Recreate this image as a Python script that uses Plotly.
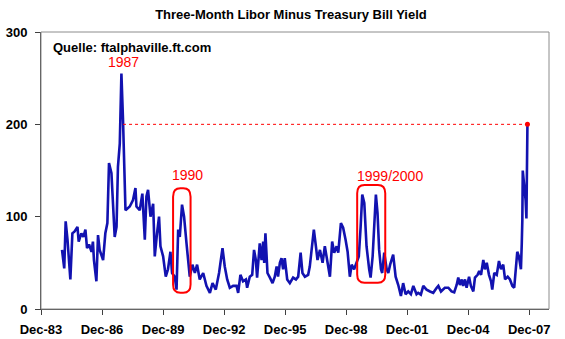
import plotly.graph_objects as go

title_text = "Three-Month Libor Minus Treasury Bill Yield"
source_text = "Quelle: ftalphaville.ft.com"

# time in decimal years, spread in basis points
years = [
    1984.95, 1985.03, 1985.06, 1985.13, 1985.22, 1985.36, 1985.46, 1985.57, 1985.71, 1985.77,
    1985.90, 1986.00, 1986.10, 1986.18, 1986.28, 1986.40, 1986.47, 1986.52, 1986.64, 1986.72,
    1986.80, 1986.97, 1987.08, 1987.18, 1987.26, 1987.38, 1987.46, 1987.54, 1987.63, 1987.70,
    1987.79, 1987.87, 1987.95, 1988.00, 1988.07, 1988.28, 1988.44, 1988.56, 1988.61, 1988.77,
    1988.90, 1989.02, 1989.10, 1989.18, 1989.30, 1989.43, 1989.51, 1989.62, 1989.72, 1989.79,
    1989.92, 1990.05, 1990.16, 1990.28, 1990.36, 1990.49, 1990.58, 1990.66, 1990.74, 1990.85,
    1990.95, 1991.07, 1991.15, 1991.23, 1991.36, 1991.48, 1991.59, 1991.72, 1991.89, 1992.05,
    1992.22, 1992.35, 1992.51, 1992.67, 1992.84, 1992.95, 1993.07, 1993.20, 1993.36, 1993.53,
    1993.61, 1993.72, 1993.85, 1993.99, 1994.05, 1994.18, 1994.30, 1994.39, 1994.48, 1994.54,
    1994.67, 1994.76, 1994.84, 1994.89, 1994.95, 1995.05, 1995.17, 1995.30, 1995.41, 1995.50,
    1995.57, 1995.66, 1995.74, 1995.82, 1995.90, 1996.02, 1996.15, 1996.31, 1996.45, 1996.56,
    1996.68, 1996.77, 1996.89, 1997.05, 1997.13, 1997.25, 1997.33, 1997.43, 1997.51, 1997.63,
    1997.76, 1997.87, 1997.99, 1998.12, 1998.23, 1998.33, 1998.45, 1998.53, 1998.66, 1998.77,
    1998.89, 1998.99, 1999.10, 1999.19, 1999.31, 1999.43, 1999.54, 1999.63, 1999.71, 1999.81,
    1999.92, 2000.05, 2000.12, 2000.22, 2000.30, 2000.38, 2000.46, 2000.54, 2000.63, 2000.69,
    2000.79, 2000.91, 2000.99, 2001.08, 2001.23, 2001.35, 2001.48, 2001.61, 2001.72, 2001.84,
    2001.97, 2002.10, 2002.22, 2002.38, 2002.46, 2002.59, 2002.71, 2002.87, 2003.04, 2003.20,
    2003.37, 2003.45, 2003.58, 2003.77, 2003.94, 2004.10, 2004.23, 2004.35, 2004.43, 2004.51,
    2004.60, 2004.67, 2004.76, 2004.84, 2004.96, 2005.05, 2005.17, 2005.25, 2005.38, 2005.46,
    2005.55, 2005.66, 2005.74, 2005.83, 2005.94, 2006.04, 2006.10, 2006.20, 2006.32, 2006.43,
    2006.53, 2006.64, 2006.73, 2006.86, 2006.97, 2007.09, 2007.18, 2007.25, 2007.33, 2007.41,
    2007.51, 2007.55, 2007.58, 2007.60, 2007.67, 2007.74, 2007.78, 2007.83,
]
spread = [
    64, 53, 44, 95, 75, 32, 82, 84, 89, 73,
    82, 78, 86, 66, 70, 62, 73, 53, 30, 80,
    64, 53, 82, 93, 158, 147, 118, 78, 89, 154,
    179, 255, 204, 147, 107, 111, 118, 131, 111, 107,
    125, 75, 122, 129, 100, 114, 57, 82, 100, 68,
    57, 35, 43, 62, 39, 35, 21, 86, 78, 113,
    100, 71, 52, 35, 48, 39, 48, 32, 39, 25,
    17.5, 28, 21, 39, 66, 46, 32, 23, 25, 25,
    17.5, 37, 30, 32, 23, 35, 37, 64, 53, 34,
    71, 53, 73, 50, 82, 39, 34, 28, 35, 46,
    35, 50, 55, 43, 55, 32, 28, 34, 32, 35,
    61, 39, 35, 37, 46, 71, 86, 68, 53, 64,
    50, 68, 53, 35, 73, 61, 68, 61, 93, 88,
    75, 62, 35, 48, 43, 50, 57, 89, 124, 115,
    68, 43, 34, 57, 89, 124, 104, 64, 43, 39,
    61, 43, 39, 48, 59, 35, 26, 14, 28, 16,
    19, 16, 25, 16, 17.5, 15.6, 25, 21, 19, 17.5,
    23, 25, 19, 23, 23, 19, 18, 26, 34, 26,
    32, 25, 32, 23, 35, 25, 19, 34, 37, 41,
    37, 53, 43, 50, 37, 30, 21, 39, 37, 52,
    43, 48, 32, 35, 32, 25, 23, 43, 62, 57,
    43, 70, 97, 150, 136, 118, 98, 200,
]

tick_years = [1983.917, 1986.917, 1989.917, 1992.917, 1995.917, 1998.917, 2001.917, 2004.917, 2007.917]
tick_labels = ["Dec-83", "Dec-86", "Dec-89", "Dec-92", "Dec-95", "Dec-98", "Dec-01", "Dec-04", "Dec-07"]
y_ticks = [0, 100, 200, 300]

# annotations
label_text = ["1987", "1990", "1999/2000"]
label_x = [1987.99, 1991.13, 2001.07]
label_y = [267, 145, 144.5]
box_x0 = [1990.41, 1999.46]
box_x1 = [1991.27, 2000.84]
box_y0 = [17.5, 28.3]
box_y1 = [130.7, 134.3]
ref_start_year = 1987.95
ref_level = 200

x_range = [1983.917, 2008.89]
y_range = [0, 300]

FONT = "Liberation Sans, Arial, sans-serif"
RED = "#ff0000"
BLUE = "#1212b0"

fig = go.Figure()
fig.add_trace(go.Scatter(x=years, y=spread, mode="lines",
                         line=dict(color=BLUE, width=2.6), hoverinfo="skip"))
# dotted reference line from the 1987 level to the latest value
fig.add_trace(go.Scatter(x=[ref_start_year, years[-1]], y=[ref_level, ref_level], mode="lines",
                         line=dict(color=RED, width=1, dash="dot"), hoverinfo="skip"))
fig.add_trace(go.Scatter(x=[years[-1]], y=[spread[-1]], mode="markers",
                         marker=dict(color=RED, size=5), hoverinfo="skip"))


def rounded(x0, x1, y0, y1, rx, ry):
    return (f"M {x0 + rx},{y0} L {x1 - rx},{y0} Q {x1},{y0} {x1},{y0 + ry} "
            f"L {x1},{y1 - ry} Q {x1},{y1} {x1 - rx},{y1} L {x0 + rx},{y1} "
            f"Q {x0},{y1} {x0},{y1 - ry} L {x0},{y0 + ry} Q {x0},{y0} {x0 + rx},{y0} Z")


shapes = []
for a, b, c, d in zip(box_x0, box_x1, box_y0, box_y1):
    shapes.append(dict(type="path", xref="x", yref="y", path=rounded(a, b, c, d, 0.36, 9),
                       line=dict(color=RED, width=2)))
shapes.append(dict(type="rect", xref="paper", yref="paper", x0=0, x1=1, y0=0, y1=1,
                   line=dict(color="#8c8c8c", width=1), layer="above"))

annotations = [dict(x=x, y=y, xref="x", yref="y", text=t, showarrow=False,
                    font=dict(family=FONT, size=14, color=RED))
               for t, x, y in zip(label_text, label_x, label_y)]
annotations.append(dict(x=1984.39, y=283, xref="x", yref="y", text=source_text, showarrow=False,
                        xanchor="left", font=dict(family=FONT, size=13, color="black", weight="bold")))

fig.update_layout(
    width=565, height=339,
    margin=dict(l=41, r=16, t=32, b=30, autoexpand=False),
    paper_bgcolor="white", plot_bgcolor="white",
    showlegend=False,
    title=dict(text=title_text, x=0.515, xref="container", xanchor="center",
               y=1 - 14 / 339, yanchor="middle",
               font=dict(family=FONT, size=13, color="black", weight="bold")),
    shapes=shapes, annotations=annotations,
)
fig.update_xaxes(range=x_range, tickvals=tick_years, ticktext=tick_labels, automargin=False,
                 showgrid=False, zeroline=False, showline=True, linecolor="#404040", linewidth=1,
                 ticks="outside", ticklen=5, tickcolor="#404040", ticklabelstandoff=3,
                 tickfont=dict(family=FONT, size=13, color="black", weight="bold"))
fig.update_yaxes(range=y_range, tickvals=y_ticks, automargin=False,
                 showgrid=False, zeroline=False, showline=True, linecolor="#404040", linewidth=1,
                 ticks="outside", ticklen=5, tickcolor="#404040", ticklabelstandoff=5,
                 tickfont=dict(family=FONT, size=13, color="black", weight="bold"))

fig.write_html("out.html")
